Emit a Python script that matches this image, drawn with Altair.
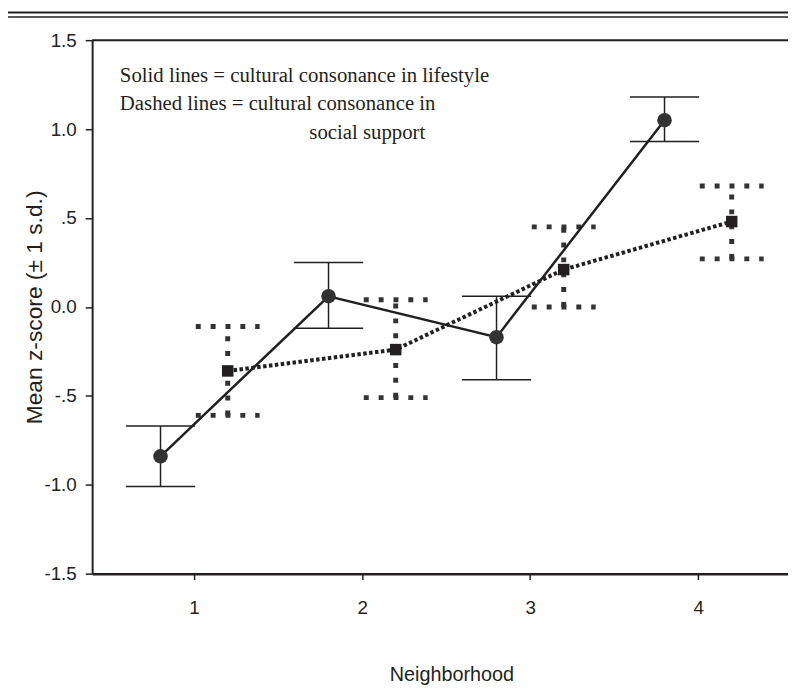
import altair as alt
import pandas as pd

# ---- data ----
neighborhoods = [1, 2, 3, 4]
lifestyle_mean = [-0.84, 0.06, -0.17, 1.05]
lifestyle_low = [-1.01, -0.12, -0.41, 0.93]
lifestyle_high = [-0.67, 0.25, 0.06, 1.18]
support_mean = [-0.36, -0.24, 0.21, 0.48]
support_low = [-0.61, -0.51, 0.00, 0.27]
support_high = [-0.11, 0.04, 0.45, 0.68]
y_ticks = [-1.5, -1.0, -0.5, 0.0, 0.5, 1.0, 1.5]
x_ticks = [1, 2, 3, 4]
note_lines = [
    "Solid lines = cultural consonance in lifestyle",
    "Dashed lines = cultural consonance in",
    "social support",
]

W, H = 703, 539
OFF = 0.2
INK = "#231f20"
SANS = "Liberation Sans Narrow, Liberation Sans, Arial, sans-serif"

life = pd.DataFrame({"x": [n - OFF for n in neighborhoods], "mean": lifestyle_mean,
                     "lo": lifestyle_low, "hi": lifestyle_high})
supp = pd.DataFrame({"x": [n + OFF for n in neighborhoods], "mean": support_mean,
                     "lo": support_low, "hi": support_high})


def caps(df, half):
    rows = []
    for _, r in df.iterrows():
        for v in (r["lo"], r["hi"]):
            rows.append({"x1": r["x"] - half, "x2": r["x"] + half, "v": v})
    return pd.DataFrame(rows)


life_caps = caps(life, 0.206)
supp_caps = caps(supp, 0.19)

xscale = alt.Scale(domain=[0.393, 4.535], nice=False, zero=False)
yscale = alt.Scale(domain=[-1.5, 1.5], nice=False, zero=False)

xaxis = alt.Axis(values=x_ticks, format="d", title="Neighborhood", grid=False,
                 tickSize=6, tickWidth=1.5, tickColor=INK, domainColor=INK, domainWidth=2.5,
                 labelFont=SANS, labelFontSize=19, labelColor=INK, labelPadding=19,
                 titleFont=SANS, titleFontSize=20, titleFontWeight="normal",
                 titleColor=INK, titleY=102, titleX=363, titleBaseline="middle")

label_expr = ("datum.value == 1.5 ? '1.5' : datum.value == 1 ? '1.0' : datum.value == 0.5 ? '.5' : "
              "datum.value == 0 ? '0.0' : datum.value == -0.5 ? '-.5' : datum.value == -1 ? '-1.0' : '-1.5'")
yaxis = alt.Axis(values=y_ticks, labelExpr=label_expr, title="Mean z-score (± 1 s.d.)", grid=False,
                 tickSize=7, tickWidth=1.5, tickColor=INK, domainColor=INK, domainWidth=2,
                 labelFont=SANS, labelFontSize=19, labelColor=INK, labelPadding=9,
                 titleFont=SANS, titleFontSize=23, titleFontWeight="normal",
                 titleColor=INK, titleX=-58, titleY=H / 2, titleBaseline="middle", titleAlign="center")


def X(f):
    return alt.X(f, type="quantitative", scale=xscale, axis=xaxis)


def Y(f):
    return alt.Y(f, type="quantitative", scale=yscale, axis=yaxis)


# solid series (lifestyle)
life_err = alt.Chart(life).mark_rule(color=INK, strokeWidth=1.5).encode(x=X("x"), y=Y("lo"), y2="hi")
life_cap = alt.Chart(life_caps).mark_rule(color=INK, strokeWidth=1.5).encode(x=X("x1"), x2="x2", y=Y("v"))
life_line = alt.Chart(life).mark_line(color=INK, strokeWidth=2.5).encode(x=X("x"), y=Y("mean"))
life_pts = alt.Chart(life).mark_circle(color="#333333", size=215, opacity=1).encode(x=X("x"), y=Y("mean"))

# dashed series (social support)
supp_err = alt.Chart(supp).mark_rule(color="#333333", strokeWidth=5, strokeDash=[5, 10], strokeCap="butt").encode(
    x=X("x"), y=Y("lo"), y2="hi")
supp_cap = alt.Chart(supp_caps).mark_rule(color="#333333", strokeWidth=5, strokeDash=[5, 10], strokeCap="butt").encode(
    x=X("x1"), x2="x2", y=Y("v"))
supp_line = alt.Chart(supp).mark_line(color=INK, strokeWidth=4, strokeDash=[3.5, 2.5]).encode(x=X("x"), y=Y("mean"))
supp_pts = alt.Chart(supp).mark_square(color=INK, size=135, opacity=1).encode(x=X("x"), y=Y("mean"))

# frame lines
one = pd.DataFrame({"k": [0]})
top_frame = alt.Chart(one).mark_rule(color=INK, strokeWidth=2).encode(
    x=alt.value(0), x2=alt.value(W), y=alt.value(0))
dbl1 = alt.Chart(one).mark_rule(color=INK, strokeWidth=2).encode(
    x=alt.value(-93), x2=alt.value(W + 5), y=alt.value(-28))
dbl2 = alt.Chart(one).mark_rule(color=INK, strokeWidth=1.5).encode(
    x=alt.value(-93), x2=alt.value(W + 5), y=alt.value(-23.5))


# annotation
def note(i, x, y, align):
    return alt.Chart(pd.DataFrame({"t": [note_lines[i]]})).mark_text(
        font="Liberation Serif", fontSize=21, color=INK, align=align, baseline="middle").encode(
        x=alt.value(x), y=alt.value(y), text="t:N")


notes = note(0, 28, 36, "left") + note(1, 28, 65, "left") + note(2, 278, 94, "center")

chart = alt.layer(
    top_frame, dbl1, dbl2,
    supp_err, supp_cap, supp_line, supp_pts,
    life_err, life_cap, life_line, life_pts,
    notes,
).properties(
    width=W, height=H,
    autosize=alt.AutoSizeParams(type="none"),
    padding={"left": 85, "top": 29, "right": 0, "bottom": 110},
).configure_view(stroke="transparent").configure(background="white")

chart.save("out.html", embed_options={"renderer": "svg", "actions": False})
